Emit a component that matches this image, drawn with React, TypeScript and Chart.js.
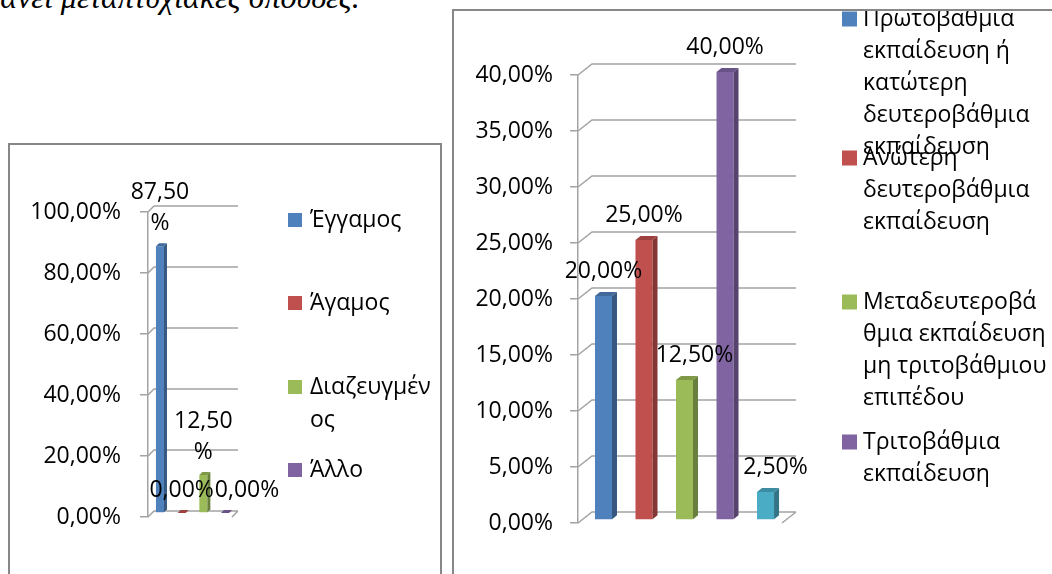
import { useEffect, useRef } from 'react';
import { Chart, registerables } from 'chart.js';

Chart.register(...registerables);

// Marital status of respondents (%)
const maritalLabels = ['Έγγαμος', 'Άγαμος', 'Διαζευγμένος', 'Άλλο'];
const maritalValues = [87.5, 0, 12.5, 0];
const maritalMax = 100;
const maritalStep = 20;

// Highest level of education (%)
const educationLabels = [
  'Πρωτοβάθμια εκπαίδευση ή κατώτερη δευτεροβάθμια εκπαίδευση',
  'Ανώτερη δευτεροβάθμια εκπαίδευση',
  'Μεταδευτεροβάθμια εκπαίδευση μη τριτοβάθμιου επιπέδου',
  'Τριτοβάθμια εκπαίδευση',
  'Μεταπτυχιακές σπουδές',
];
const educationValues = [20, 25, 12.5, 40, 2.5];
const educationMax = 40;
const educationStep = 5;

const headingText = 'κάνει μεταπτυχιακές σπουδές.';

const palette = ['#4F81BD', '#C0504D', '#9BBB59', '#8064A2', '#4BACC6'];
const GRID = '#a3a3a3';
const FONT_FAMILY = "'Open Sans', sans-serif";
const FONT_SIZE = 23;
const FONT = `${FONT_SIZE}px ${FONT_FAMILY}`;

const pct = (v: number) => v.toFixed(2).replace('.', ',') + '%';

function shade(hex: string, f: number) {
  const n = parseInt(hex.slice(1), 16);
  const r = Math.round(((n >> 16) & 255) * f);
  const g = Math.round(((n >> 8) & 255) * f);
  const b = Math.round((n & 255) * f);
  return `rgb(${r},${g},${b})`;
}

// Greedy word wrap; words wider than the box are split by characters.
function wrapText(ctx: CanvasRenderingContext2D, text: string, maxWidth: number) {
  const words = text.split(' ');
  const lines: string[] = [];
  let line = '';
  for (const word of words) {
    const candidate = line ? line + ' ' + word : word;
    if (ctx.measureText(candidate).width <= maxWidth) {
      line = candidate;
      continue;
    }
    if (line) {
      lines.push(line);
      line = '';
    }
    let rest = word;
    while (rest.length > 1 && ctx.measureText(rest).width > maxWidth) {
      let n = rest.length - 1;
      while (n > 1 && ctx.measureText(rest.slice(0, n)).width > maxWidth) n--;
      lines.push(rest.slice(0, n));
      rest = rest.slice(n);
    }
    line = rest;
  }
  if (line) lines.push(line);
  return lines;
}

type Look = {
  wallDx: number;
  wallDy: number;
  wallExtra: number;
  barDx: number;
  barDy: number;
  lift: number;
  labelGap: number;
  labelLine: number;
  labelMaxWidth: number;
  labelShift: number[];
  legendBoxX: number;
  legendBox: number;
  legendTextX: number;
  legendYs: number[];
  legendLine: number;
  legendMaxWidth: number;
};

// Excel-style 3D column look: back wall grid, bar side/top faces, value labels, legend.
function excel3d(look: Look) {
  return {
    id: 'excel3d',
    beforeDatasetsDraw(chart: any) {
      const { ctx, chartArea } = chart;
      const yScale = chart.scales.y;
      const { left, right, bottom } = chartArea;
      const wallRight = right + look.wallExtra;
      ctx.save();
      ctx.strokeStyle = GRID;
      ctx.lineWidth = 1.5;
      ctx.beginPath();
      yScale.ticks.forEach((t: any) => {
        const py = yScale.getPixelForValue(t.value);
        ctx.moveTo(left, py);
        ctx.lineTo(left + look.wallDx, py - look.wallDy);
        ctx.lineTo(wallRight, py - look.wallDy);
      });
      ctx.moveTo(wallRight - look.wallDx, bottom);
      ctx.lineTo(wallRight, bottom - look.wallDy);
      ctx.stroke();
      ctx.restore();
      ctx.save();
      ctx.translate(0, -look.lift);
    },
    afterDatasetsDraw(chart: any) {
      const ctx: CanvasRenderingContext2D = chart.ctx;
      chart.data.datasets.forEach((ds: any, i: number) => {
        const meta = chart.getDatasetMeta(i);
        meta.data.forEach((bar: any) => {
          const { x, y, base, width } = bar.getProps(['x', 'y', 'base', 'width'], true);
          const l = x - width / 2;
          const r = x + width / 2;
          const color = ds.backgroundColor as string;
          ctx.fillStyle = shade(color, 0.68);
          ctx.beginPath();
          ctx.moveTo(r, y);
          ctx.lineTo(r + look.barDx, y - look.barDy);
          ctx.lineTo(r + look.barDx, base - look.barDy);
          ctx.lineTo(r, base);
          ctx.closePath();
          ctx.fill();
          ctx.fillStyle = shade(color, 0.82);
          ctx.beginPath();
          ctx.moveTo(l, y);
          ctx.lineTo(l + look.barDx, y - look.barDy);
          ctx.lineTo(r + look.barDx, y - look.barDy);
          ctx.lineTo(r, y);
          ctx.closePath();
          ctx.fill();
        });
      });
      ctx.restore();
    },
    afterDraw(chart: any) {
      const ctx: CanvasRenderingContext2D = chart.ctx;
      const datasets = chart.data.datasets;
      ctx.save();
      ctx.font = FONT;
      ctx.fillStyle = '#000';
      ctx.textAlign = 'center';
      ctx.textBaseline = 'alphabetic';
      datasets.forEach((ds: any, i: number) => {
        const bar = chart.getDatasetMeta(i).data[0];
        const lines = wrapText(ctx, pct(ds.data[0]), look.labelMaxWidth);
        const cx = bar.x + (look.labelShift[i] || 0);
        let by = bar.y - look.labelGap;
        for (let k = lines.length - 1; k >= 0; k--) {
          ctx.fillText(lines[k], cx, by);
          by -= look.labelLine;
        }
      });

      ctx.textAlign = 'left';
      look.legendYs.forEach((ly, i) => {
        const ds = datasets[i];
        if (!ds) return;
        ctx.fillStyle = ds.backgroundColor;
        ctx.fillRect(look.legendBoxX, ly - look.legendBox / 2, look.legendBox, look.legendBox);
        ctx.fillStyle = '#000';
        const lines = wrapText(ctx, ds.label, look.legendMaxWidth);
        lines.forEach((s, k) => ctx.fillText(s, look.legendTextX, ly + 7 + k * look.legendLine));
      });
      ctx.restore();
    },
  };
}

function buildChart(
  canvas: HTMLCanvasElement,
  labels: string[],
  values: number[],
  max: number,
  step: number,
  axisWidth: number,
  padding: { top: number; right: number; bottom: number },
  tickPadding: number,
  categoryPercentage: number,
  barPercentage: number,
  look: Look,
) {
  return new Chart(canvas, {
    type: 'bar',
    data: {
      labels: [''],
      datasets: labels.map((label, i) => ({
        label,
        data: [values[i]],
        backgroundColor: palette[i],
        borderWidth: 0,
        categoryPercentage,
        barPercentage,
      })),
    },
    options: {
      animation: false,
      responsive: false,
      maintainAspectRatio: false,
      events: [],
      layout: { padding: { left: 0, top: padding.top, right: padding.right, bottom: padding.bottom } },
      plugins: { legend: { display: false }, tooltip: { enabled: false } },
      scales: {
        x: { display: false },
        y: {
          min: 0,
          max,
          afterFit: (scale: any) => {
            scale.width = axisWidth;
          },
          ticks: {
            stepSize: step,
            padding: tickPadding,
            color: '#000',
            font: { family: FONT_FAMILY, size: FONT_SIZE },
            callback: (v: any) => pct(Number(v)),
          },
          grid: {
            display: true,
            drawOnChartArea: false,
            drawTicks: true,
            tickLength: 8,
            color: GRID,
            lineWidth: 1.5,
          },
          border: { display: true, color: GRID, width: 1.5 },
        },
      },
    },
    plugins: [excel3d(look)],
  } as any);
}

export default function App() {
  const leftRef = useRef<HTMLCanvasElement>(null);
  const rightRef = useRef<HTMLCanvasElement>(null);

  useEffect(() => {
    const left = buildChart(
      leftRef.current!,
      maritalLabels,
      maritalValues,
      maritalMax,
      maritalStep,
      138,
      { top: 67, right: 203, bottom: 57 },
      19,
      0.975,
      0.37,
      {
        wallDx: 6,
        wallDy: 6,
        wallExtra: 1,
        barDx: 3,
        barDy: 3,
        lift: 4,
        labelGap: 20,
        labelLine: 31,
        labelMaxWidth: 70,
        labelShift: [0, 0, 0, 22],
        legendBoxX: 278,
        legendBox: 14,
        legendTextX: 300,
        legendYs: [75, 158, 242, 325],
        legendLine: 33,
        legendMaxWidth: 128,
      },
    );
    const right = buildChart(
      rightRef.current!,
      educationLabels,
      educationValues,
      educationMax,
      educationStep,
      124,
      { top: 64, right: 261, bottom: 51 },
      17,
      0.951,
      0.42,
      {
        wallDx: 14,
        wallDy: 11,
        wallExtra: 5,
        barDx: 5,
        barDy: 4,
        lift: 3,
        labelGap: 21,
        labelLine: 31,
        labelMaxWidth: 200,
        labelShift: [0, 0, 10, 0, 10],
        legendBoxX: 388,
        legendBox: 15,
        legendTextX: 409,
        legendYs: [8, 147, 291, 431],
        legendLine: 32,
        legendMaxWidth: 186,
      },
    );
    return () => {
      left.destroy();
      right.destroy();
    };
  }, []);

  return (
    <div
      style={{
        position: 'absolute',
        left: 0,
        top: 0,
        width: 1052,
        height: 574,
        overflow: 'hidden',
        background: '#fff',
      }}
    >
      <div
        style={{
          position: 'absolute',
          left: -15,
          top: -19,
          font: "italic 32px 'Liberation Serif', serif",
          lineHeight: '32px',
          whiteSpace: 'nowrap',
          color: '#000',
        }}
      >
        {headingText}
      </div>
      <div
        style={{
          position: 'absolute',
          left: 8,
          top: 143,
          width: 430,
          height: 500,
          border: '2px solid #878787',
        }}
      >
        <canvas ref={leftRef} width={430} height={429} style={{ display: 'block' }} />
      </div>
      <div
        style={{
          position: 'absolute',
          left: 452,
          top: 9,
          width: 700,
          height: 600,
          border: '2px solid #878787',
        }}
      >
        <canvas ref={rightRef} width={598} height={563} style={{ display: 'block' }} />
      </div>
    </div>
  );
}
